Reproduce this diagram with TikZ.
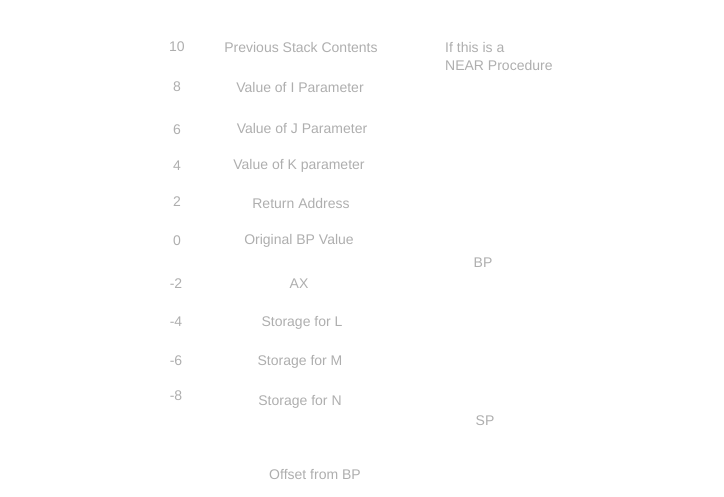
\documentclass[tikz,border=0pt]{standalone}
\usepackage{fontspec}
\setmainfont{Liberation Sans}
\definecolor{txtgray}{HTML}{AEAEAE}
\begin{document}
\begin{tikzpicture}[x=1pt,y=-1pt,
  lbl/.style={inner sep=0pt,text=txtgray,font=\fontsize{14}{16}\selectfont},
  num/.style={lbl},
  cell/.style={lbl}]
\useasboundingbox (0,0) rectangle (724,497);
% offsets
\node[num] (n10) at (177,47) {10};
\node[num] (n8)  at (177,87) {8};
\node[num] (n6)  at (177,130) {6};
\node[num] (n4)  at (177,166) {4};
\node[num] (n2)  at (177,202) {2};
\node[num] (n0)  at (177,241) {0};
\node[num] (nm2) at (176,284) {-2};
\node[num] (nm4) at (176,322) {-4};
\node[num] (nm6) at (176,361) {-6};
\node[num] (nm8) at (176,396) {-8};
% stack contents
\node[cell] (prev) at (301,47) {Previous Stack Contents};
\node[cell] (vi)   at (300,87) {Value of I Parameter};
\node[cell] (vj)   at (302,128) {Value of J Parameter};
\node[cell] (vk)   at (299,166) {Value of K parameter};
\node[cell] (ret)  at (301,203) {Return Address};
\node[cell] (obp)  at (299,241) {Original BP Value};
\node[cell] (ax)   at (299,284) {AX};
\node[cell] (sl)   at (302,323) {Storage for L};
\node[cell] (sm)   at (300,362) {Storage for M};
\node[cell] (sn)   at (300,402) {Storage for N};
% side notes
\node[lbl,anchor=west] (near1) at (445,47) {If this is a};
\node[lbl,anchor=west] (near2) at (445,65) {NEAR Procedure};
\node[lbl] (bp) at (483,263) {BP};
\node[lbl] (sp) at (485,421) {SP};
\node[lbl] (off) at (315,475) {Offset from BP};
\end{tikzpicture}
\end{document}
